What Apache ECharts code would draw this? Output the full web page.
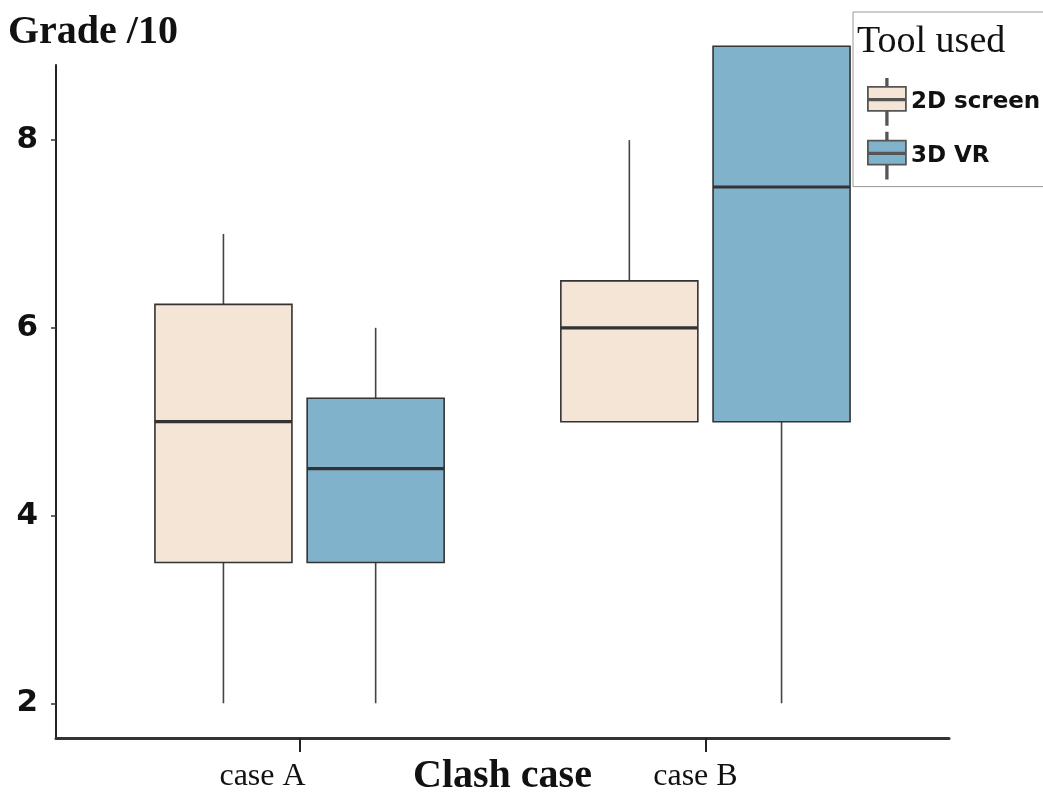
<!DOCTYPE html>
<html>
<head>
<meta charset="utf-8">
<script src="https://cdn.jsdelivr.net/npm/echarts@6/dist/echarts.min.js"></script>
<style>html,body{margin:0;padding:0;background:#fff}#c{width:1043px;height:793px}</style>
</head>
<body>
<div id="c"></div>
<script>
// ---- data (min, Q1, median, Q3, max) ----
const categories = ['case A', 'case B'];
const seriesNames = ['2D screen', '3D VR'];
const screen2D = [[2, 3.5, 5, 6.25, 7], [5, 5, 6, 6.5, 8]];
const vr3D = [[2, 3.5, 4.5, 5.25, 6], [2, 5, 7.5, 9, 9]];
const yTicks = [2, 4, 6, 8];

// ---- styles ----
const colors = ['#F4E5D7', '#80B3CB'];
const DODGE = 0.1875, BOX_W = 0.3375;

function toItems(arr) { return arr.map((v, i) => [i + 1].concat(v)); }

function makeRender(offset) {
  return function (params, api) {
    const xc = api.value(0) + offset;
    const mn = api.value(1), q1 = api.value(2), md = api.value(3), q3 = api.value(4), mx = api.value(5);
    const c = api.coord([xc, md]);
    const l = api.coord([xc - BOX_W / 2, q3]);
    const r = api.coord([xc + BOX_W / 2, q1]);
    const pMin = api.coord([xc, mn]);
    const pMax = api.coord([xc, mx]);
    const color = api.visual('color');
    const lineStyle = { stroke: '#444', lineWidth: 1.6 };
    return {
      type: 'group',
      children: [
        { type: 'line', shape: { x1: c[0], y1: pMax[1], x2: c[0], y2: l[1] }, style: lineStyle },
        { type: 'line', shape: { x1: c[0], y1: r[1], x2: c[0], y2: pMin[1] }, style: lineStyle },
        { type: 'rect', shape: { x: l[0], y: l[1], width: r[0] - l[0], height: r[1] - l[1] },
          style: { fill: color, stroke: '#333', lineWidth: 1.6 } },
        { type: 'line', shape: { x1: l[0], y1: c[1], x2: r[0], y2: c[1] },
          style: { stroke: '#333', lineWidth: 3.2 } }
      ]
    };
  };
}

const iconPath = 'path://M18.25 0H19.75V8H18.25Z M0 8H38V20H0Z M0 21.5H38V32H0Z M18.25 32H19.75V46H18.25Z';

const chart = echarts.init(document.getElementById('c'), null, { renderer: 'canvas' });
chart.setOption({
  animation: false,
  backgroundColor: '#fff',
  title: [
    { text: 'Grade /10', left: 8, top: 13, padding: 0,
      textStyle: { fontFamily: 'Liberation Serif', fontWeight: 'bold', fontSize: 40, color: '#111' } },
    { text: 'Tool used', left: 857, top: 23, padding: 0, z: 20,
      textStyle: { fontFamily: 'Liberation Serif', fontWeight: 'normal', fontSize: 38, color: '#111' } }
  ],
  legend: {
    orient: 'vertical', left: 853, top: 12,
    padding: [66, 20, 7, 14], itemGap: 6, itemWidth: 38, itemHeight: 46,
    borderColor: '#999', borderWidth: 1, backgroundColor: '#fff',
    icon: iconPath,
    itemStyle: { borderColor: '#555', borderWidth: 1.8 },
    textStyle: { fontFamily: 'DejaVu Sans', fontWeight: 'bold', fontSize: 23, color: '#111' },
    data: seriesNames
  },
  grid: { left: 56, right: 94, top: 65, bottom: 55, containLabel: false, outerBoundsMode: 'none' },
  xAxis: {
    type: 'value', min: 0.4, max: 2.6,
    splitLine: { show: false },
    axisLine: { show: true, lineStyle: { color: '#333', width: 3 } },
    axisTick: { show: true, customValues: [1, 2], length: 14, lineStyle: { color: '#222', width: 2 } },
    axisLabel: {
      customValues: [1, 2], margin: 23, color: '#111',
      fontFamily: 'Liberation Serif', fontSize: 32,
      formatter: v => (Math.round(v) === 1 ? '{a|' : '{b|') + categories[Math.round(v) - 1] + '}',
      rich: {
        a: { fontFamily: 'Liberation Serif', fontSize: 32, color: '#111', padding: [0, 74, 0, 0] },
        b: { fontFamily: 'Liberation Serif', fontSize: 32, color: '#111', padding: [0, 20, 0, 0] }
      }
    },
    name: 'Clash case', nameLocation: 'middle', nameGap: 19, nameMoveOverlap: false,
    nameTextStyle: { fontFamily: 'Liberation Serif', fontWeight: 'bold', fontSize: 40, color: '#111' }
  },
  yAxis: {
    type: 'value', min: 1.63, max: 8.8,
    splitLine: { show: false },
    axisLine: { show: true, lineStyle: { color: '#222', width: 2 } },
    axisTick: { show: true, customValues: yTicks, length: 5, lineStyle: { color: '#333', width: 1.5 } },
    axisLabel: { customValues: yTicks, margin: 18, color: '#111',
      fontFamily: 'DejaVu Sans', fontWeight: 'bold', fontSize: 31 }
  },
  series: [
    { type: 'custom', name: seriesNames[0], renderItem: makeRender(-DODGE),
      itemStyle: { color: colors[0] }, encode: { x: 0, y: [1, 2, 3, 4, 5] },
      data: toItems(screen2D), clip: false, silent: true },
    { type: 'custom', name: seriesNames[1], renderItem: makeRender(DODGE),
      itemStyle: { color: colors[1] }, encode: { x: 0, y: [1, 2, 3, 4, 5] },
      data: toItems(vr3D), clip: false, silent: true }
  ]
});
</script>
</body>
</html>
